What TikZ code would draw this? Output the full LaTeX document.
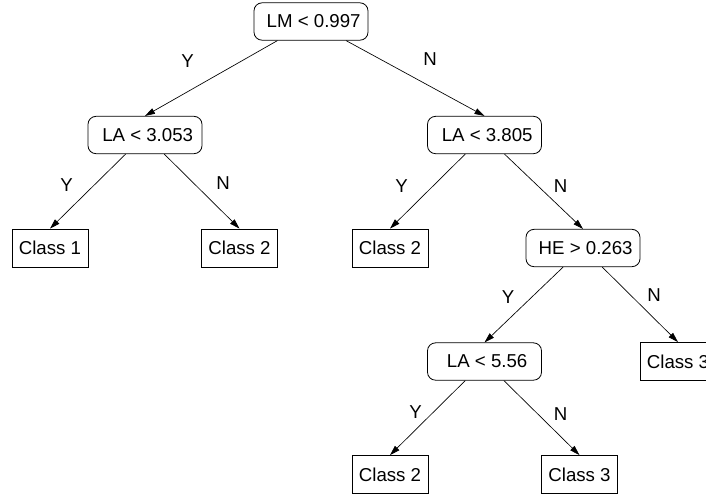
\documentclass[tikz,border=0pt]{standalone}
\usepackage{fontspec}
\setmainfont{Liberation Sans}
\usetikzlibrary{arrows.meta}
\begin{document}
\begin{tikzpicture}[x=0.75pt,y=-0.75pt,
  every node/.style={font=\fontsize{14}{16}\selectfont},
  split/.style={draw,rounded corners=6pt,minimum width=85.5pt,minimum height=28pt,inner sep=0pt,line width=0.6pt,execute at begin node={\hspace*{4pt}}},
  leaf/.style={draw,rectangle,minimum width=57pt,minimum height=28.5pt,inner sep=0pt,line width=0.6pt},
  edge/.style={-{Triangle[length=7.5pt,width=4.5pt]},line width=0.5pt},
  lbl/.style={inner sep=0pt}]
\clip (0,0) rectangle (706,494);
\useasboundingbox (0,0) rectangle (706,494);
% nodes
\node[split] (top) at (311,21.5) {LM < 0.997};
\node[split] (la1) at (145,135) {LA < 3.053};
\node[split] (la2) at (484.5,135) {LA < 3.805};
\node[leaf] (c1) at (50,248) {Class 1};
\node[leaf] (c2a) at (239.5,248) {Class 2};
\node[leaf] (c2b) at (390,248) {Class 2};
\node[split] (he) at (583,248) {HE > 0.263};
\node[split] (la3) at (484.5,361.5) {LA < 5.56};
\node[leaf] (c3a) at (678,361.5) {Class 3};
\node[leaf] (c2c) at (390,474.5) {Class 2};
\node[leaf] (c3b) at (579.5,474.5) {Class 3};
% connectors
\draw[edge] (top) -- (la1.north);
\draw[edge] (top) -- (la2.north);
\draw[edge] (la1) -- (c1.north);
\draw[edge] (la1) -- (c2a.north);
\draw[edge] (la2) -- (c2b.north);
\draw[edge] (la2) -- (he.north);
\draw[edge] (he) -- (la3.north);
\draw[edge] (he) -- (c3a.north);
\draw[edge] (la3) -- (c2c.north);
\draw[edge] (la3) -- (c3b.north);
% edge labels
\node[lbl] (y1) at (187.5,61.5) {Y};
\node[lbl] (n1) at (430,59.5) {N};
\node[lbl] (y2) at (66.5,185) {Y};
\node[lbl] (n2) at (223,183.5) {N};
\node[lbl] (y3) at (401.5,186.5) {Y};
\node[lbl] (n3) at (560.5,186) {N};
\node[lbl] (y4) at (508,297.5) {Y};
\node[lbl] (n4) at (654,295) {N};
\node[lbl] (y5) at (415.5,412) {Y};
\node[lbl] (n5) at (560.5,414.5) {N};
\end{tikzpicture}
\end{document}
